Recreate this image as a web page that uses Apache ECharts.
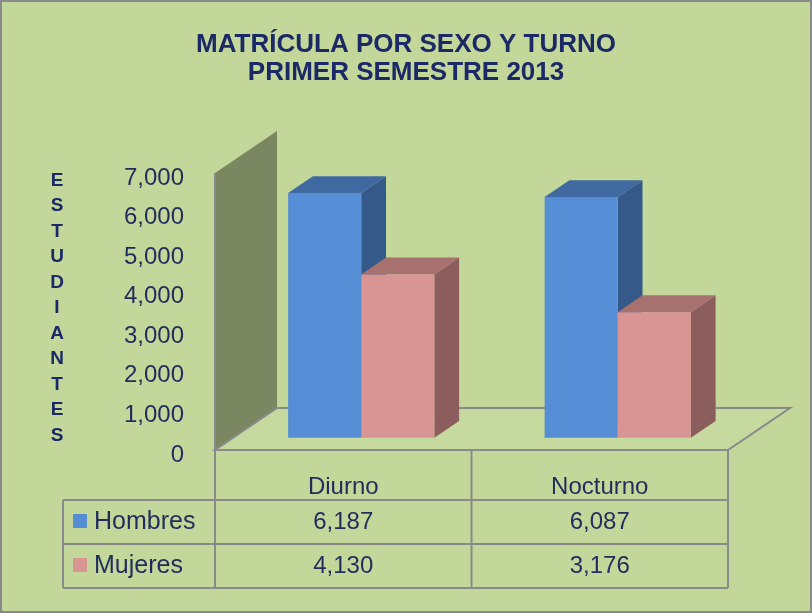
<!DOCTYPE html>
<html>
<head>
<meta charset="utf-8">
<script src="https://cdn.jsdelivr.net/npm/echarts@6/dist/echarts.min.js"></script>
<style>
  html, body { margin: 0; padding: 0; background: #c4d79b; }
  #chart { width: 812px; height: 613px; }
</style>
</head>
<body>
<div id="chart"></div>
<script>
// data
const categories = ['Diurno', 'Nocturno']
const seriesNames = ['Hombres', 'Mujeres']
const hombres = [6187, 6087]
const mujeres = [4130, 3176]
const yMin = 0
const yMax = 7000
const yInterval = 1000
const titleLines = ['MATRÍCULA POR SEXO Y TURNO', 'PRIMER SEMESTRE 2013']
const axisName = 'ESTUDIANTES'

// style
const FONT = '"Liberation Sans", Arial, sans-serif'
const TEXT = '#1f2c5c'
const TITLE = '#1b2966'
const LINE = '#8a8a8a'
const colors = [
  { front: '#558ed5', top: '#4069a1', side: '#355a8a' },
  { front: '#d99594', top: '#a6716f', side: '#8b5e5d' },
]
const DEPTH = [62, -42]
const BAR_FRONT = 0.29
const BAR_BACK = 0.69
const BAR_FRAC = 0.285

const fmt = (v) => v.toLocaleString('en-US')

function render3dBar(idx) {
  return function (params, api) {
    const cat = api.value(0)
    const val = api.value(1)
    const band = api.size([1, 0])[0]
    const w = band * BAR_FRAC
    const base = api.coord([cat, 0])
    const top = api.coord([cat, val])
    const xl = base[0] + (idx - 1) * w + BAR_FRONT * DEPTH[0]
    const xr = xl + w
    const yb = base[1] + BAR_FRONT * DEPTH[1]
    const yt = top[1] + BAR_FRONT * DEPTH[1]
    const dx = (BAR_BACK - BAR_FRONT) * DEPTH[0]
    const dy = (BAR_BACK - BAR_FRONT) * DEPTH[1]
    const c = colors[idx]
    return {
      type: 'group',
      children: [
        {
          type: 'polygon',
          shape: { points: [[xr, yt], [xr + dx, yt + dy], [xr + dx, yb + dy], [xr, yb]] },
          style: { fill: c.side },
        },
        {
          type: 'polygon',
          shape: { points: [[xl, yt], [xr, yt], [xr + dx, yt + dy], [xl + dx, yt + dy]] },
          style: { fill: c.top },
        },
        {
          type: 'rect',
          shape: { x: xl, y: yt, width: w, height: yb - yt },
          style: { fill: c.front },
        },
      ],
    }
  }
}

const chart = echarts.init(document.getElementById('chart'), null, { renderer: 'canvas' })

const option = {
  backgroundColor: '#c4d79b',
  animation: false,
  title: {
    text: titleLines.join('\n'),
    left: 'center',
    top: 26,
    textStyle: {
      fontFamily: FONT,
      fontSize: 26,
      fontWeight: 'bold',
      color: TITLE,
      lineHeight: 28,
    },
  },
  grid: { left: 215, right: 84, top: 173, bottom: 163 },
  xAxis: {
    type: 'category',
    data: categories,
    axisLine: { show: false },
    axisTick: { show: false },
    axisLabel: {
      margin: 37,
      verticalAlign: 'middle',
      fontFamily: FONT,
      fontSize: 24,
      color: TEXT,
    },
  },
  yAxis: {
    type: 'value',
    min: yMin,
    max: yMax,
    interval: yInterval,
    axisLine: { show: false },
    axisTick: { show: false },
    splitLine: { show: false },
    axisLabel: {
      margin: 31,
      fontFamily: FONT,
      fontSize: 24,
      color: TEXT,
      formatter: (v) => '{v|' + fmt(v) + '}',
      rich: {
        v: {
          fontFamily: FONT,
          fontSize: 24,
          color: TEXT,
          lineHeight: 34,
          verticalAlign: 'bottom',
        },
      },
    },
  },
  series: [hombres, mujeres].map((vals, i) => ({
    type: 'custom',
    name: seriesNames[i],
    z: 10,
    renderItem: render3dBar(i),
    encode: { x: 0, y: 1 },
    data: vals.map((v, j) => [j, v]),
  })),
}

chart.setOption(option)

// wall, floor and data table, placed from the axes
const y0 = chart.convertToPixel({ yAxisIndex: 0 }, yMin)
const yTop = chart.convertToPixel({ yAxisIndex: 0 }, yMax)
const centers = categories.map((c) => chart.convertToPixel({ xAxisIndex: 0 }, c))
const band = centers[1] - centers[0]
const left = centers[0] - band / 2
const right = centers[centers.length - 1] + band / 2
const HEADER_H = 50
const ROW_H = 44
const LEGEND_W = 152
const tableLeft = left - LEGEND_W
const rowTops = [y0 + HEADER_H, y0 + HEADER_H + ROW_H]
const tableBottom = y0 + HEADER_H + ROW_H * 2

const line = (x1, y1, x2, y2) => ({
  type: 'line',
  z: 1,
  shape: { x1, y1, x2, y2 },
  style: { stroke: LINE, lineWidth: 2 },
})

const graphic = [
  {
    type: 'rect',
    z: 0,
    shape: { x: 1, y: 1, width: 810, height: 611 },
    style: { fill: 'none', stroke: LINE, lineWidth: 2 },
  },
  {
    type: 'polygon',
    z: 1,
    shape: {
      points: [
        [left, yTop], [left + DEPTH[0], yTop + DEPTH[1]],
        [left + DEPTH[0], y0 + DEPTH[1]], [left, y0],
      ],
    },
    style: { fill: '#7b8760' },
  },
  {
    type: 'polygon',
    z: 1,
    shape: {
      points: [
        [left, y0], [right, y0],
        [right + DEPTH[0], y0 + DEPTH[1]], [left + DEPTH[0], y0 + DEPTH[1]],
      ],
    },
    style: { fill: '#c6d99f', stroke: LINE, lineWidth: 2 },
  },
  line(left, yTop, left, tableBottom),
  line(right, y0, right, tableBottom),
  line(tableLeft, rowTops[0], tableLeft, tableBottom),
  line(tableLeft, rowTops[0], right, rowTops[0]),
  line(tableLeft, rowTops[1], right, rowTops[1]),
  line(tableLeft, tableBottom, right, tableBottom),
  {
    type: 'text',
    z: 2,
    x: 57,
    y: 168,
    style: {
      text: axisName.split('').join('\n'),
      font: 'bold 19px ' + FONT,
      fill: TITLE,
      align: 'center',
      verticalAlign: 'top',
      lineHeight: 25.5,
    },
  },
]

for (let k = 1; k < categories.length; k++) {
  graphic.push(line(left + band * k, y0, left + band * k, tableBottom))
}

;[hombres, mujeres].forEach((vals, i) => {
  const cy = rowTops[i] + ROW_H / 2
  graphic.push({
    type: 'rect',
    z: 2,
    shape: { x: tableLeft + 10, y: cy - 8, width: 14, height: 14 },
    style: { fill: colors[i].front },
  })
  graphic.push({
    type: 'text',
    z: 2,
    x: tableLeft + 31,
    y: cy,
    style: {
      text: seriesNames[i],
      font: '25px ' + FONT,
      fill: TEXT,
      verticalAlign: 'middle',
    },
  })
  vals.forEach((v, j) => {
    graphic.push({
      type: 'text',
      z: 2,
      x: centers[j],
      y: cy,
      style: {
        text: fmt(v),
        font: '24px ' + FONT,
        fill: TEXT,
        align: 'center',
        verticalAlign: 'middle',
      },
    })
  })
})

chart.setOption({ graphic })
</script>
</body>
</html>
